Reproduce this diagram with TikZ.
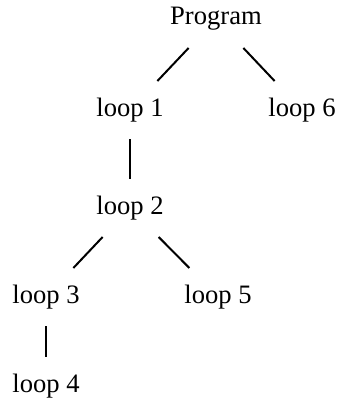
\documentclass[tikz,border=0pt]{standalone}
\usepackage{fontspec}
\setmainfont{Liberation Serif}
\usetikzlibrary{positioning}

\begin{document}
\begin{tikzpicture}[on grid,line width=1pt,
    loopnode/.style={rectangle,inner xsep=1pt,minimum height=28pt,font=\fontsize{13.3}{16}\selectfont}]

  \useasboundingbox (-108pt,9.5pt) rectangle (61.5pt,-192pt);

  \node[loopnode] (prog) {Program};
  \node[loopnode] (l1) [below left=45.5pt and 43pt of prog] {loop 1};
  \node[loopnode] (l6) [below right=45.5pt and 43pt of prog] {loop 6};
  \node[loopnode] (l2) [below=49pt of l1] {loop 2};
  \node[loopnode] (l3) [below left=44.5pt and 42pt of l2] {loop 3};
  \node[loopnode] (l5) [below right=44.5pt and 44pt of l2] {loop 5};
  \node[loopnode] (l4) [below=44.5pt of l3] {loop 4};

  \path
        (prog) edge (l1)
               edge (l6)
        (l1)   edge (l2)
        (l2)   edge (l3)
               edge (l5)
        (l3)   edge (l4);

\end{tikzpicture}
\end{document}
